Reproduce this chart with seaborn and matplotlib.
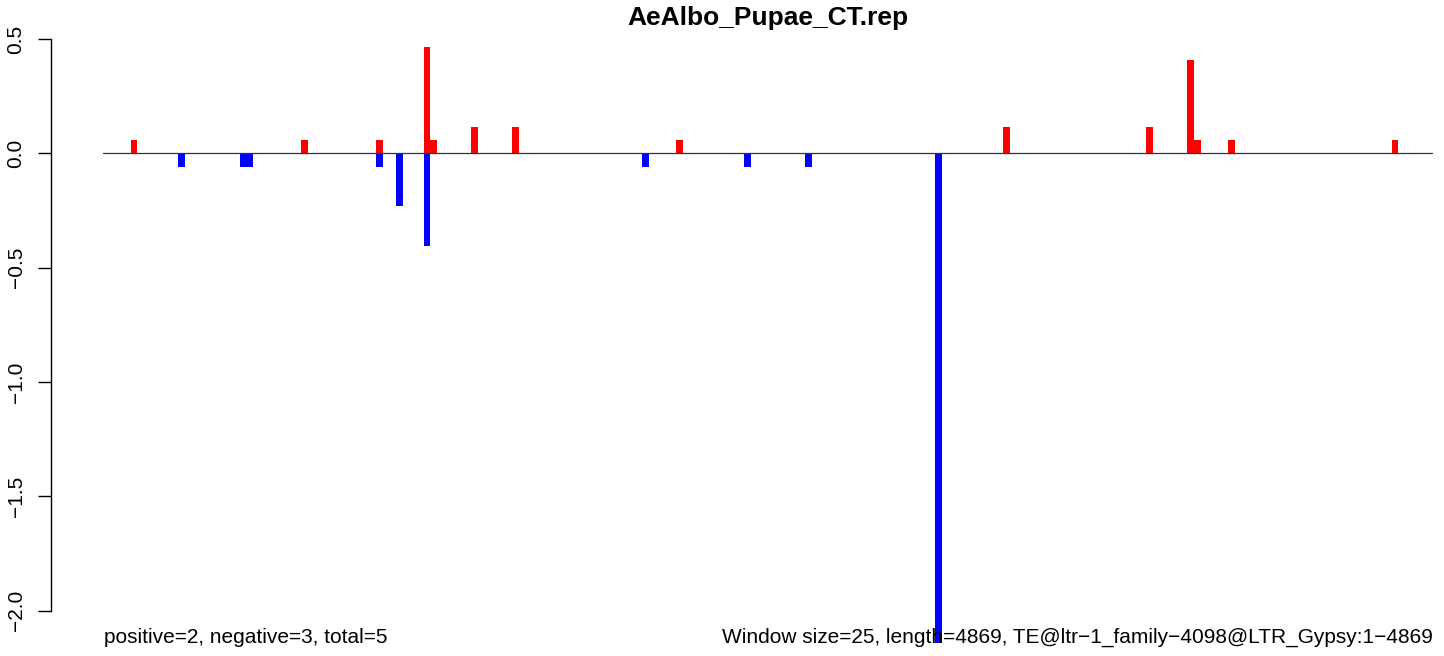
import pandas as pd
import seaborn as sns
import matplotlib.pyplot as plt

# window bins (25 bp each) with read signal
n_windows = 195
pos_bins = [4, 29, 40, 47, 48, 54, 60, 84, 132, 153, 159, 160, 165, 189]
pos_vals = [0.058, 0.058, 0.058, 0.464, 0.058, 0.116, 0.116, 0.058, 0.116, 0.116, 0.406, 0.058, 0.058, 0.058]
neg_bins = [11, 20, 21, 40, 43, 47, 79, 94, 103, 122]
neg_vals = [-0.058, -0.058, -0.058, -0.058, -0.232, -0.406, -0.058, -0.058, -0.058, -2.14]

title = 'AeAlbo_Pupae_CT.rep'
left_note = 'positive=2, negative=3, total=5'
right_note = 'Window size=25, length=4869, TE@ltr\u22121_family\u22124098@LTR_Gypsy:1\u22124869'

sns.set_style('white')
plt.rcParams['font.family'] = ['Liberation Sans', 'DejaVu Sans']
plt.rcParams['text.color'] = 'black'

df_pos = pd.DataFrame({'x': [b + 0.5 for b in pos_bins], 'value': pos_vals})
df_neg = pd.DataFrame({'x': [b + 0.5 for b in neg_bins], 'value': neg_vals})

W, H = 1444, 656
fig = plt.figure(figsize=(W / 100, H / 100), dpi=100)

# pixel layout of the plot region
zero_px = 153.3
unit_px = 228.7
x0_px = 103.3
pitch_px = 6.816
left_px = 50.7
ytop, ybot = 0.6, -2.2
top_px = zero_px - ytop * unit_px
bot_px = zero_px - ybot * unit_px
ax = fig.add_axes([left_px / W, (H - bot_px) / H, (W - left_px) / W, (bot_px - top_px) / H])

sns.barplot(data=df_pos, x='x', y='value', native_scale=True, width=1, color='#FF0000',
            saturation=1, errorbar=None, linewidth=0, ax=ax)
sns.barplot(data=df_neg, x='x', y='value', native_scale=True, width=1, color='#0000FF',
            saturation=1, errorbar=None, linewidth=0, ax=ax)

ax.plot([0, n_windows], [0, 0], color='#333333', lw=0.9, zorder=5)

ax.set_xlim(-(x0_px - left_px) / pitch_px, (W - x0_px) / pitch_px)
ax.set_ylim(ybot, ytop)
ax.set_xlabel('')
ax.set_ylabel('')
ax.set_xticks([])

for s in ['top', 'right', 'bottom']:
    ax.spines[s].set_visible(False)
ax.spines['left'].set_bounds(-2.0, 0.5)
ax.spines['left'].set_linewidth(1.0)
ax.spines['left'].set_color('black')
ax.set_yticks([-2.0, -1.5, -1.0, -0.5, 0.0, 0.5])
ax.set_yticklabels(['\u22122.0', '\u22121.5', '\u22121.0', '\u22120.5', '0.0', '0.5'])
ax.tick_params(axis='y', left=True, direction='out', length=9.6, width=1.0, pad=8.5,
               labelsize=15, colors='black')
for lab in ax.get_yticklabels():
    lab.set_rotation(90)
    lab.set_va('center')
ax.patch.set_alpha(0)

fig.text(((x0_px + (x0_px + n_windows * pitch_px)) / 2) / W, (H - 25) / H, title,
         ha='center', va='baseline', fontsize=19, fontweight='bold', color='black')
fig.text((x0_px + 1) / W, (H - 643) / H, left_note, ha='left', va='baseline',
         fontsize=15, color='black')
fig.text((x0_px + n_windows * pitch_px) / W, (H - 643) / H, right_note,
         ha='right', va='baseline', fontsize=15, color='black')

fig.savefig('out.png', dpi=100)
